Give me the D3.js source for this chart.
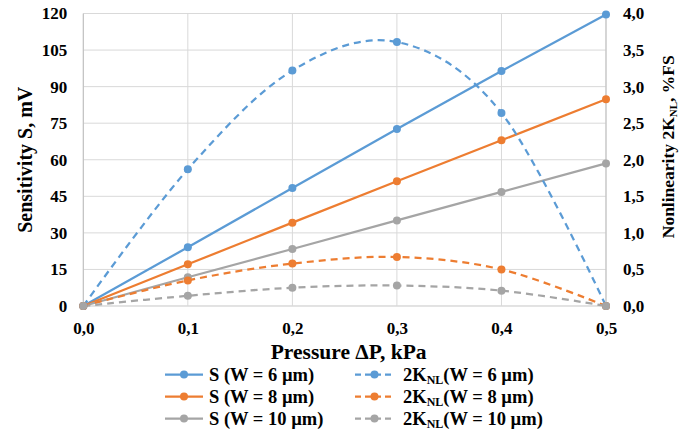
<!DOCTYPE html>
<html><head><meta charset="utf-8">
<script src="https://cdn.jsdelivr.net/npm/d3@7"></script>
<style>body{margin:0;background:#fff}svg{display:block}</style>
</head><body><svg id="c" width="685" height="432" style="font-family:'Liberation Serif';font-weight:bold"></svg>
<script>
const pressure = [0.0, 0.1, 0.2, 0.3, 0.4, 0.5];
const sW6 = [0, 24.1, 48.4, 72.6, 96.4, 119.6];
const sW8 = [0, 17.1, 34.2, 51.2, 68.0, 84.8];
const sW10 = [0, 11.8, 23.4, 35.1, 46.8, 58.5];
const kW6 = [0, 1.87, 3.22, 3.61, 2.64, 0];
const kW8 = [0, 0.35, 0.58, 0.67, 0.50, 0];
const kW10 = [0, 0.14, 0.25, 0.28, 0.21, 0];
const leftTicks = [0, 15, 30, 45, 60, 75, 90, 105, 120];
const rightTicks = [0, 0.5, 1, 1.5, 2, 2.5, 3, 3.5, 4];
const colors = ["#5b9bd5", "#ed7d31", "#a5a5a5"];

const FONT = "'Liberation Serif', 'Times New Roman', serif";
const svg = d3.select("#c");
const L = 83.3, R = 606, T = 13.5, B = 306;
const x = d3.scaleLinear().domain([0, 0.5]).range([L, R]);
const yL = d3.scaleLinear().domain([0, 120]).range([B, T]);
const yR = d3.scaleLinear().domain([0, 4]).range([B, T]);
const fmt = d => d3.format(".1f")(d).replace(".", ",");
const txt = sel => sel.style("font-family", FONT).style("font-weight", "bold").style("fill", "#000");

// gridlines
const g = svg.append("g");
g.selectAll(".hg").data(leftTicks).join("line")
  .attr("x1", L).attr("x2", R).attr("y1", d => yL(d)).attr("y2", d => yL(d))
  .attr("stroke", "#d9d9d9").attr("stroke-width", 1);
g.selectAll(".vg").data(pressure).join("line")
  .attr("x1", d => x(d)).attr("x2", d => x(d)).attr("y1", T).attr("y2", B)
  .attr("stroke", "#d9d9d9").attr("stroke-width", 1);
// axis lines
svg.append("line").attr("x1", L).attr("x2", L).attr("y1", T).attr("y2", B).attr("stroke", "#bfbfbf");
svg.append("line").attr("x1", R).attr("x2", R).attr("y1", T).attr("y2", B).attr("stroke", "#bfbfbf");
svg.append("line").attr("x1", L).attr("x2", R).attr("y1", B).attr("y2", B).attr("stroke", "#d9d9d9");

// axes (labels only)
const axL = svg.append("g").attr("transform", `translate(${L},0)`)
  .call(d3.axisLeft(yL).tickValues(leftTicks).tickSize(0).tickPadding(16).tickFormat(d3.format("d")));
const axR = svg.append("g").attr("transform", `translate(${R},0)`)
  .call(d3.axisRight(yR).tickValues(rightTicks).tickSize(0).tickPadding(17).tickFormat(fmt));
const axB = svg.append("g").attr("transform", `translate(0,${B})`)
  .call(d3.axisBottom(x).tickValues(pressure).tickSize(0).tickPadding(16).tickFormat(fmt));
[axL, axR, axB].forEach(a => {
  a.attr("font-family", null).attr("font-size", null);
  a.select(".domain").remove();
  a.selectAll("text").call(txt).style("font-size", "17px");
});

// titles
svg.append("text").attr("transform", `translate(32,${(T + B) / 2}) rotate(-90)`)
  .attr("text-anchor", "middle").call(txt).style("font-size", "20px").text("Sensitivity S, mV");
const rt = svg.append("text").attr("transform", `translate(674,${(T + B) / 2 - 13}) rotate(-90)`)
  .attr("text-anchor", "middle").call(txt).style("font-size", "17.5px");
rt.append("tspan").text("Nonlinearity 2K");
rt.append("tspan").style("font-size", "11px").attr("dy", 3).text("NL");
rt.append("tspan").attr("dy", -3).text(", %FS");
svg.append("text").attr("x", (L + R) / 2 + 4).attr("y", 358.5).attr("text-anchor", "middle")
  .call(txt).style("font-size", "21.5px").text("Pressure \u0394P, kPa");

// series
const sSeries = [sW6, sW8, sW10];
const kSeries = [kW6, kW8, kW10];
const lineS = d3.line().x((d, i) => x(pressure[i])).y(d => yL(d));
const lineK = d3.line().x((d, i) => x(pressure[i])).y(d => yR(d)).curve(d3.curveCatmullRom.alpha(0));

sSeries.forEach((s, k) => {
  svg.append("path").attr("d", lineS(s)).attr("fill", "none").attr("stroke", colors[k]).attr("stroke-width", 2.25);
});
kSeries.forEach((s, k) => {
  svg.append("path").attr("d", lineK(s)).attr("fill", "none").attr("stroke", colors[k]).attr("stroke-width", 2.25).attr("stroke-dasharray", "7,5");
});
sSeries.forEach((s, k) => {
  svg.append("g").selectAll("circle").data(s).join("circle")
    .attr("cx", (d, i) => x(pressure[i])).attr("cy", d => yL(d)).attr("r", 4).attr("fill", colors[k]);
});
kSeries.forEach((s, k) => {
  svg.append("g").selectAll("circle").data(s).join("circle")
    .attr("cx", (d, i) => x(pressure[i])).attr("cy", d => yR(d)).attr("r", 4).attr("fill", colors[k]);
});

// legend
const widths = ["6", "8", "10"];
const rowY = [374.5, 396.5, 418.5];
widths.forEach((w, k) => {
  const gy = rowY[k];
  const g1 = svg.append("g");
  g1.append("line").attr("x1", 165).attr("x2", 203).attr("y1", gy).attr("y2", gy).attr("stroke", colors[k]).attr("stroke-width", 2.25);
  g1.append("circle").attr("cx", 184).attr("cy", gy).attr("r", 4).attr("fill", colors[k]);
  g1.append("text").attr("x", 209).attr("y", gy + 6).call(txt).style("font-size", "18.5px").text(`S (W = ${w} \u00b5m)`);
  const g2 = svg.append("g");
  g2.append("line").attr("x1", 355).attr("x2", 394).attr("y1", gy).attr("y2", gy).attr("stroke", colors[k]).attr("stroke-width", 2.25).attr("stroke-dasharray", "6,4");
  g2.append("circle").attr("cx", 374.5).attr("cy", gy).attr("r", 4).attr("fill", colors[k]);
  const t = g2.append("text").attr("x", 403).attr("y", gy + 6).call(txt).style("font-size", "18.5px");
  t.append("tspan").text("2K");
  t.append("tspan").style("font-size", "12px").attr("dy", 3.5).text("NL");
  t.append("tspan").attr("dy", -3.5).text(`(W = ${w} \u00b5m)`);
});
</script></body></html>
